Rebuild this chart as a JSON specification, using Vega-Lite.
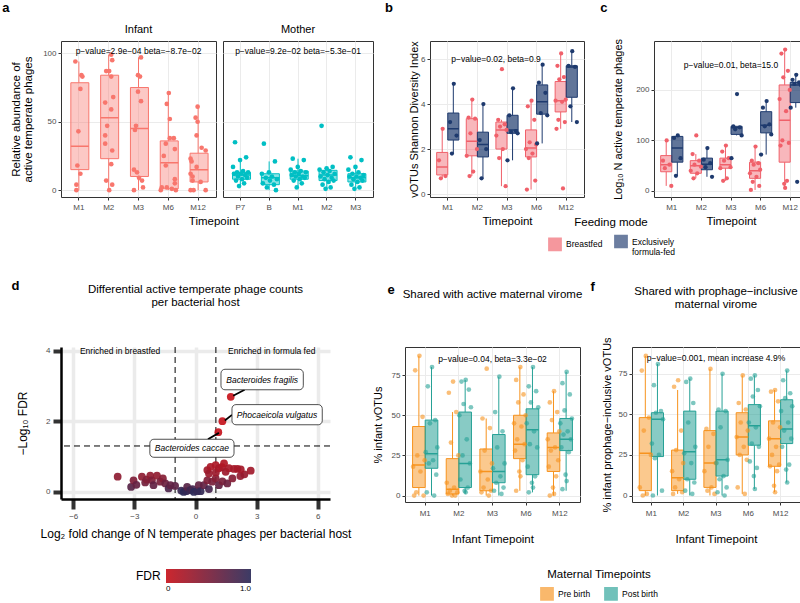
{
"$schema":"https://vega.github.io/schema/vega-lite/v6.json",
"background":"white",
"padding":{"left":2,"top":2,"right":0,"bottom":0},
"config":{
 "font":"Liberation Sans",
 "view":{"stroke":"#333333","strokeWidth":1},
 "axis":{"labelFontSize":8,"labelColor":"#4D4D4D","titleFontSize":11,"titleFontWeight":"normal","titleColor":"black","tickColor":"#333333","tickSize":3,"domain":false,"gridColor":"#EBEBEB","labelPadding":2,"titlePadding":4},
 "axisX":{"labelAngle":0},
 "title":{"fontSize":13,"fontWeight":"bold","anchor":"start","frame":"bounds","offset":0,"color":"black"},
 "legend":{"titleFontWeight":"normal","titleColor":"black","labelColor":"black"}
},
"datasets":{
 "aI":[
  {"t":"M1","v":94,"k":4},{"t":"M1","v":84,"k":10},{"t":"M1","v":83,"k":11},{"t":"M1","v":74,"k":9},{"t":"M1","v":43,"k":7},{"t":"M1","v":18,"k":6},{"t":"M1","v":12,"k":9},{"t":"M1","v":4,"k":5},{"t":"M1","v":0,"k":5},
  {"t":"M2","v":99,"k":10},{"t":"M2","v":95,"k":11},{"t":"M2","v":87,"k":5},{"t":"M2","v":87,"k":8},{"t":"M2","v":83,"k":10},{"t":"M2","v":68,"k":12},{"t":"M2","v":64,"k":4},{"t":"M2","v":59,"k":10},{"t":"M2","v":47,"k":6},{"t":"M2","v":40,"k":4},{"t":"M2","v":34,"k":4},{"t":"M2","v":29,"k":11},{"t":"M2","v":19,"k":10},{"t":"M2","v":7,"k":5},{"t":"M2","v":4,"k":11},{"t":"M2","v":0,"k":8},
  {"t":"M3","v":97,"k":10},{"t":"M3","v":84,"k":7},{"t":"M3","v":83,"k":9},{"t":"M3","v":72,"k":7},{"t":"M3","v":65,"k":10},{"t":"M3","v":47,"k":5},{"t":"M3","v":44,"k":4},{"t":"M3","v":15,"k":3},{"t":"M3","v":13,"k":6},{"t":"M3","v":9,"k":8},{"t":"M3","v":7,"k":11},{"t":"M3","v":2,"k":12},{"t":"M3","v":0,"k":3},
  {"t":"M6","v":71,"k":8},{"t":"M6","v":63,"k":6},{"t":"M6","v":52,"k":9},{"t":"M6","v":38,"k":9},{"t":"M6","v":38,"k":13},{"t":"M6","v":34,"k":5},{"t":"M6","v":30,"k":14},{"t":"M6","v":25,"k":3},{"t":"M6","v":18,"k":5},{"t":"M6","v":8,"k":14},{"t":"M6","v":5,"k":14},{"t":"M6","v":2,"k":1},{"t":"M6","v":2,"k":6},{"t":"M6","v":1,"k":11},{"t":"M6","v":0,"k":0},{"t":"M6","v":0,"k":15},
  {"t":"M12","v":61,"k":7},{"t":"M12","v":53,"k":5},{"t":"M12","v":50,"k":7},{"t":"M12","v":40,"k":6},{"t":"M12","v":31,"k":11},{"t":"M12","v":29,"k":15},{"t":"M12","v":23,"k":0},{"t":"M12","v":21,"k":1},{"t":"M12","v":17,"k":6},{"t":"M12","v":12,"k":0},{"t":"M12","v":10,"k":2},{"t":"M12","v":7,"k":2},{"t":"M12","v":6,"k":10},{"t":"M12","v":0,"k":0},{"t":"M12","v":0,"k":3},{"t":"M12","v":0,"k":15}
 ],
 "aIb":[
  {"t":"M1","lo":0,"q1":15,"md":32,"q3":78.5,"hi":94},
  {"t":"M2","lo":0,"q1":23,"md":53,"q3":84,"hi":99},
  {"t":"M3","lo":0,"q1":10,"md":45,"q3":75,"hi":97},
  {"t":"M6","lo":0,"q1":1,"md":20,"q3":36,"hi":71},
  {"t":"M12","lo":0,"q1":6,"md":15,"q3":27,"hi":61}
 ],
 "aM":[
  {"t":"P7","v":35,"k":2},{"t":"P7","v":24,"k":13},{"t":"P7","v":22,"k":7},{"t":"P7","v":17,"k":0},{"t":"P7","v":14,"k":10},{"t":"P7","v":13,"k":4},{"t":"P7","v":13,"k":15},{"t":"P7","v":12,"k":8},{"t":"P7","v":12,"k":1},{"t":"P7","v":11,"k":12},{"t":"P7","v":10,"k":5},{"t":"P7","v":9,"k":14},{"t":"P7","v":8,"k":9},{"t":"P7","v":7,"k":3},{"t":"P7","v":5,"k":11},{"t":"P7","v":3,"k":6},
  {"t":"B","v":34,"k":2},{"t":"B","v":21,"k":13},{"t":"B","v":13,"k":7},{"t":"B","v":12,"k":0},{"t":"B","v":10,"k":10},{"t":"B","v":9,"k":4},{"t":"B","v":8,"k":15},{"t":"B","v":7,"k":8},{"t":"B","v":5,"k":1},{"t":"B","v":4,"k":12},{"t":"B","v":2,"k":5},{"t":"B","v":0,"k":14},
  {"t":"M1","v":23,"k":2},{"t":"M1","v":22,"k":13},{"t":"M1","v":17,"k":7},{"t":"M1","v":15,"k":0},{"t":"M1","v":14,"k":10},{"t":"M1","v":13,"k":4},{"t":"M1","v":13,"k":15},{"t":"M1","v":12,"k":8},{"t":"M1","v":11,"k":1},{"t":"M1","v":10,"k":12},{"t":"M1","v":10,"k":5},{"t":"M1","v":9,"k":14},{"t":"M1","v":8,"k":9},{"t":"M1","v":7,"k":3},{"t":"M1","v":5,"k":11},{"t":"M1","v":2,"k":6},
  {"t":"M2","v":47,"k":2},{"t":"M2","v":17,"k":13},{"t":"M2","v":16,"k":7},{"t":"M2","v":15,"k":0},{"t":"M2","v":14,"k":10},{"t":"M2","v":13,"k":4},{"t":"M2","v":12,"k":15},{"t":"M2","v":11,"k":8},{"t":"M2","v":10,"k":1},{"t":"M2","v":9,"k":12},{"t":"M2","v":8,"k":5},{"t":"M2","v":7,"k":14},{"t":"M2","v":6,"k":9},{"t":"M2","v":4,"k":3},{"t":"M2","v":2,"k":11},{"t":"M2","v":1,"k":6},
  {"t":"M3","v":24,"k":2},{"t":"M3","v":22,"k":13},{"t":"M3","v":17,"k":7},{"t":"M3","v":15,"k":0},{"t":"M3","v":13,"k":10},{"t":"M3","v":12,"k":4},{"t":"M3","v":11,"k":15},{"t":"M3","v":10,"k":8},{"t":"M3","v":10,"k":1},{"t":"M3","v":9,"k":12},{"t":"M3","v":8,"k":5},{"t":"M3","v":7,"k":14},{"t":"M3","v":6,"k":9},{"t":"M3","v":4,"k":3},{"t":"M3","v":2,"k":11},{"t":"M3","v":1,"k":6}
 ],
 "aMb":[
  {"t":"P7","lo":3,"q1":8,"md":11,"q3":13,"hi":22},
  {"t":"B","lo":0,"q1":4,"md":9,"q3":12,"hi":21},
  {"t":"M1","lo":2,"q1":8,"md":10.5,"q3":14,"hi":23},
  {"t":"M2","lo":1,"q1":7,"md":11,"q3":14.5,"hi":17},
  {"t":"M3","lo":1,"q1":6,"md":9,"q3":12,"hi":17}
 ],
 "bp":[
  {"t":"M1","g":"BF","v":2.9,"k":6},{"t":"M1","g":"BF","v":1.5,"k":2},{"t":"M1","g":"BF","v":0.8,"k":9},{"t":"M1","g":"BF","v":0.7,"k":4},
  {"t":"M1","g":"FF","v":4.9,"k":18},{"t":"M1","g":"FF","v":3.2,"k":14},{"t":"M1","g":"FF","v":2.6,"k":21},{"t":"M1","g":"FF","v":1.8,"k":16},
  {"t":"M2","g":"BF","v":4.2,"k":6},{"t":"M2","g":"BF","v":3.4,"k":2},{"t":"M2","g":"BF","v":3.35,"k":9},{"t":"M2","g":"BF","v":2.7,"k":4},{"t":"M2","g":"BF","v":2.0,"k":11},{"t":"M2","g":"BF","v":1.7,"k":0},{"t":"M2","g":"BF","v":1.0,"k":7},{"t":"M2","g":"BF","v":0.8,"k":3},
  {"t":"M2","g":"FF","v":4.0,"k":18},{"t":"M2","g":"FF","v":2.4,"k":14},{"t":"M2","g":"FF","v":2.0,"k":21},{"t":"M2","g":"FF","v":0.7,"k":16},
  {"t":"M3","g":"BF","v":5.55,"k":6},{"t":"M3","g":"BF","v":3.3,"k":2},{"t":"M3","g":"BF","v":3.1,"k":9},{"t":"M3","g":"BF","v":3.0,"k":4},{"t":"M3","g":"BF","v":2.85,"k":11},{"t":"M3","g":"BF","v":2.6,"k":0},{"t":"M3","g":"BF","v":2.0,"k":7},{"t":"M3","g":"BF","v":1.6,"k":3},{"t":"M3","g":"BF","v":0.35,"k":10},
  {"t":"M3","g":"FF","v":4.7,"k":18},{"t":"M3","g":"FF","v":3.5,"k":14},{"t":"M3","g":"FF","v":2.8,"k":21},{"t":"M3","g":"FF","v":2.75,"k":16},{"t":"M3","g":"FF","v":2.7,"k":23},{"t":"M3","g":"FF","v":1.5,"k":12},
  {"t":"M6","g":"BF","v":4.15,"k":6},{"t":"M6","g":"BF","v":3.9,"k":2},{"t":"M6","g":"BF","v":3.3,"k":9},{"t":"M6","g":"BF","v":2.3,"k":4},{"t":"M6","g":"BF","v":2.2,"k":11},{"t":"M6","g":"BF","v":2.0,"k":0},{"t":"M6","g":"BF","v":1.8,"k":7},{"t":"M6","g":"BF","v":1.6,"k":3},{"t":"M6","g":"BF","v":0.6,"k":10},{"t":"M6","g":"BF","v":0.2,"k":1},
  {"t":"M6","g":"FF","v":5.75,"k":18},{"t":"M6","g":"FF","v":4.95,"k":14},{"t":"M6","g":"FF","v":4.5,"k":21},{"t":"M6","g":"FF","v":3.6,"k":16},{"t":"M6","g":"FF","v":3.5,"k":23},{"t":"M6","g":"FF","v":2.25,"k":12},
  {"t":"M12","g":"BF","v":6.25,"k":6},{"t":"M12","g":"BF","v":5.7,"k":2},{"t":"M12","g":"BF","v":5.2,"k":9},{"t":"M12","g":"BF","v":5.1,"k":4},{"t":"M12","g":"BF","v":4.2,"k":11},{"t":"M12","g":"BF","v":4.15,"k":0},{"t":"M12","g":"BF","v":4.1,"k":7},{"t":"M12","g":"BF","v":3.3,"k":3},{"t":"M12","g":"BF","v":3.2,"k":10},{"t":"M12","g":"BF","v":2.9,"k":1},{"t":"M12","g":"BF","v":0.25,"k":8},
  {"t":"M12","g":"FF","v":6.35,"k":18},{"t":"M12","g":"FF","v":5.7,"k":14},{"t":"M12","g":"FF","v":5.65,"k":21},{"t":"M12","g":"FF","v":3.9,"k":16},{"t":"M12","g":"FF","v":3.2,"k":23}
 ],
 "bb":[
  {"t":"M1","g":"BF","lo":0.7,"q1":0.85,"md":1.2,"q3":1.85,"hi":2.9},
  {"t":"M1","g":"FF","lo":1.8,"q1":2.4,"md":2.9,"q3":3.6,"hi":4.9},
  {"t":"M2","g":"BF","lo":0.8,"q1":1.7,"md":2.35,"q3":3.35,"hi":4.2},
  {"t":"M2","g":"FF","lo":0.7,"q1":1.65,"md":2.2,"q3":2.75,"hi":4.0},
  {"t":"M3","g":"BF","lo":0.35,"q1":2.0,"md":2.85,"q3":3.2,"hi":3.3},
  {"t":"M3","g":"FF","lo":1.5,"q1":2.7,"md":2.85,"q3":3.5,"hi":4.7},
  {"t":"M6","g":"BF","lo":0.2,"q1":1.65,"md":2.05,"q3":2.85,"hi":4.15},
  {"t":"M6","g":"FF","lo":2.25,"q1":3.55,"md":4.1,"q3":4.85,"hi":5.75},
  {"t":"M12","g":"BF","lo":2.9,"q1":3.65,"md":4.15,"q3":5.0,"hi":6.25},
  {"t":"M12","g":"FF","lo":3.2,"q1":4.3,"md":5.65,"q3":5.7,"hi":6.35}
 ],
 "cp":[
  {"t":"M1","g":"BF","v":100,"k":6},{"t":"M1","g":"BF","v":60,"k":2},{"t":"M1","g":"BF","v":52,"k":9},{"t":"M1","g":"BF","v":45,"k":4},{"t":"M1","g":"BF","v":10,"k":11},
  {"t":"M1","g":"FF","v":110,"k":18},{"t":"M1","g":"FF","v":105,"k":14},{"t":"M1","g":"FF","v":65,"k":21},{"t":"M1","g":"FF","v":30,"k":16},
  {"t":"M2","g":"BF","v":110,"k":6},{"t":"M2","g":"BF","v":73,"k":2},{"t":"M2","g":"BF","v":60,"k":9},{"t":"M2","g":"BF","v":52,"k":4},{"t":"M2","g":"BF","v":48,"k":11},{"t":"M2","g":"BF","v":40,"k":0},{"t":"M2","g":"BF","v":35,"k":7},{"t":"M2","g":"BF","v":25,"k":3},
  {"t":"M2","g":"FF","v":85,"k":18},{"t":"M2","g":"FF","v":62,"k":14},{"t":"M2","g":"FF","v":55,"k":21},{"t":"M2","g":"FF","v":47,"k":16},{"t":"M2","g":"FF","v":28,"k":23},
  {"t":"M3","g":"BF","v":90,"k":6},{"t":"M3","g":"BF","v":78,"k":2},{"t":"M3","g":"BF","v":65,"k":9},{"t":"M3","g":"BF","v":60,"k":4},{"t":"M3","g":"BF","v":47,"k":11},{"t":"M3","g":"BF","v":45,"k":0},{"t":"M3","g":"BF","v":25,"k":7},{"t":"M3","g":"BF","v":20,"k":3},
  {"t":"M3","g":"FF","v":192,"k":18},{"t":"M3","g":"FF","v":128,"k":14},{"t":"M3","g":"FF","v":126,"k":21},{"t":"M3","g":"FF","v":122,"k":16},{"t":"M3","g":"FF","v":110,"k":23},{"t":"M3","g":"FF","v":65,"k":12},
  {"t":"M6","g":"BF","v":88,"k":6},{"t":"M6","g":"BF","v":60,"k":2},{"t":"M6","g":"BF","v":55,"k":9},{"t":"M6","g":"BF","v":52,"k":4},{"t":"M6","g":"BF","v":42,"k":11},{"t":"M6","g":"BF","v":35,"k":0},{"t":"M6","g":"BF","v":28,"k":7},{"t":"M6","g":"BF","v":18,"k":3},{"t":"M6","g":"BF","v":10,"k":10},{"t":"M6","g":"BF","v":2,"k":1},
  {"t":"M6","g":"FF","v":178,"k":18},{"t":"M6","g":"FF","v":165,"k":14},{"t":"M6","g":"FF","v":132,"k":21},{"t":"M6","g":"FF","v":128,"k":16},{"t":"M6","g":"FF","v":112,"k":23},{"t":"M6","g":"FF","v":72,"k":12},
  {"t":"M12","g":"BF","v":280,"k":6},{"t":"M12","g":"BF","v":272,"k":2},{"t":"M12","g":"BF","v":238,"k":9},{"t":"M12","g":"BF","v":225,"k":4},{"t":"M12","g":"BF","v":200,"k":11},{"t":"M12","g":"BF","v":182,"k":0},{"t":"M12","g":"BF","v":158,"k":7},{"t":"M12","g":"BF","v":100,"k":3},{"t":"M12","g":"BF","v":95,"k":10},{"t":"M12","g":"BF","v":90,"k":1},{"t":"M12","g":"BF","v":20,"k":8},{"t":"M12","g":"BF","v":14,"k":5},{"t":"M12","g":"BF","v":6,"k":6},
  {"t":"M12","g":"FF","v":230,"k":18},{"t":"M12","g":"FF","v":220,"k":14},{"t":"M12","g":"FF","v":215,"k":21},{"t":"M12","g":"FF","v":212,"k":16},{"t":"M12","g":"FF","v":210,"k":23},{"t":"M12","g":"FF","v":165,"k":12},{"t":"M12","g":"FF","v":18,"k":19}
 ],
 "cb":[
  {"t":"M1","g":"BF","lo":10,"q1":38,"md":52,"q3":70,"hi":100},
  {"t":"M1","g":"FF","lo":30,"q1":57,"md":85,"q3":108,"hi":110},
  {"t":"M2","g":"BF","lo":25,"q1":35,"md":50,"q3":60,"hi":73},
  {"t":"M2","g":"FF","lo":28,"q1":42,"md":53,"q3":65,"hi":85},
  {"t":"M3","g":"BF","lo":20,"q1":45,"md":52,"q3":65,"hi":90},
  {"t":"M3","g":"FF","lo":110,"q1":112,"md":125,"q3":128,"hi":128},
  {"t":"M6","g":"BF","lo":2,"q1":25,"md":40,"q3":57,"hi":88},
  {"t":"M6","g":"FF","lo":72,"q1":115,"md":130,"q3":157,"hi":178},
  {"t":"M12","g":"BF","lo":6,"q1":57,"md":140,"q3":210,"hi":280},
  {"t":"M12","g":"FF","lo":165,"q1":175,"md":210,"q3":215,"hi":230}
 ],
 "ep":[
  {"t":"M1","g":"Pre","v":87,"k":6},{"t":"M1","g":"Pre","v":78,"k":2},{"t":"M1","g":"Pre","v":49,"k":9},{"t":"M1","g":"Pre","v":25,"k":4},{"t":"M1","g":"Pre","v":22,"k":11},{"t":"M1","g":"Pre","v":18,"k":0},{"t":"M1","g":"Pre","v":15,"k":7},{"t":"M1","g":"Pre","v":2,"k":3},{"t":"M1","g":"Pre","v":0,"k":10},{"t":"M1","g":"Pre","v":0,"k":1},
  {"t":"M1","g":"Post","v":80,"k":18},{"t":"M1","g":"Post","v":68,"k":14},{"t":"M1","g":"Post","v":47,"k":21},{"t":"M1","g":"Post","v":45,"k":16},{"t":"M1","g":"Post","v":30,"k":23},{"t":"M1","g":"Post","v":27,"k":12},{"t":"M1","g":"Post","v":22,"k":19},{"t":"M1","g":"Post","v":20,"k":15},{"t":"M1","g":"Post","v":13,"k":22},{"t":"M1","g":"Post","v":2,"k":13},{"t":"M1","g":"Post","v":0,"k":20},
  {"t":"M2","g":"Pre","v":71,"k":6},{"t":"M2","g":"Pre","v":64,"k":2},{"t":"M2","g":"Pre","v":52,"k":9},{"t":"M2","g":"Pre","v":33,"k":4},{"t":"M2","g":"Pre","v":25,"k":11},{"t":"M2","g":"Pre","v":8,"k":0},{"t":"M2","g":"Pre","v":5,"k":7},{"t":"M2","g":"Pre","v":3,"k":3},{"t":"M2","g":"Pre","v":2,"k":10},{"t":"M2","g":"Pre","v":1,"k":1},{"t":"M2","g":"Pre","v":0,"k":8},{"t":"M2","g":"Pre","v":0,"k":5},
  {"t":"M2","g":"Post","v":72,"k":18},{"t":"M2","g":"Post","v":71,"k":14},{"t":"M2","g":"Post","v":66,"k":21},{"t":"M2","g":"Post","v":57,"k":16},{"t":"M2","g":"Post","v":55,"k":23},{"t":"M2","g":"Post","v":50,"k":12},{"t":"M2","g":"Post","v":35,"k":19},{"t":"M2","g":"Post","v":25,"k":15},{"t":"M2","g":"Post","v":20,"k":22},{"t":"M2","g":"Post","v":10,"k":13},{"t":"M2","g":"Post","v":5,"k":20},{"t":"M2","g":"Post","v":3,"k":17},{"t":"M2","g":"Post","v":2,"k":18},
  {"t":"M3","g":"Pre","v":79,"k":6},{"t":"M3","g":"Pre","v":48,"k":2},{"t":"M3","g":"Pre","v":42,"k":9},{"t":"M3","g":"Pre","v":28,"k":4},{"t":"M3","g":"Pre","v":20,"k":11},{"t":"M3","g":"Pre","v":15,"k":0},{"t":"M3","g":"Pre","v":10,"k":7},{"t":"M3","g":"Pre","v":5,"k":3},{"t":"M3","g":"Pre","v":3,"k":10},{"t":"M3","g":"Pre","v":2,"k":1},{"t":"M3","g":"Pre","v":0,"k":8},
  {"t":"M3","g":"Post","v":74,"k":18},{"t":"M3","g":"Post","v":52,"k":14},{"t":"M3","g":"Post","v":40,"k":21},{"t":"M3","g":"Post","v":30,"k":16},{"t":"M3","g":"Post","v":20,"k":23},{"t":"M3","g":"Post","v":17,"k":12},{"t":"M3","g":"Post","v":12,"k":19},{"t":"M3","g":"Post","v":8,"k":15},{"t":"M3","g":"Post","v":5,"k":22},{"t":"M3","g":"Post","v":3,"k":13},{"t":"M3","g":"Post","v":1,"k":20},
  {"t":"M6","g":"Pre","v":80,"k":6},{"t":"M6","g":"Pre","v":72,"k":2},{"t":"M6","g":"Pre","v":63,"k":9},{"t":"M6","g":"Pre","v":58,"k":4},{"t":"M6","g":"Pre","v":50,"k":11},{"t":"M6","g":"Pre","v":45,"k":0},{"t":"M6","g":"Pre","v":43,"k":7},{"t":"M6","g":"Pre","v":35,"k":3},{"t":"M6","g":"Pre","v":32,"k":10},{"t":"M6","g":"Pre","v":28,"k":1},{"t":"M6","g":"Pre","v":22,"k":8},{"t":"M6","g":"Pre","v":15,"k":5},{"t":"M6","g":"Pre","v":12,"k":6},{"t":"M6","g":"Pre","v":3,"k":2},
  {"t":"M6","g":"Post","v":80,"k":18},{"t":"M6","g":"Post","v":68,"k":14},{"t":"M6","g":"Post","v":65,"k":21},{"t":"M6","g":"Post","v":58,"k":16},{"t":"M6","g":"Post","v":55,"k":23},{"t":"M6","g":"Post","v":45,"k":12},{"t":"M6","g":"Post","v":40,"k":19},{"t":"M6","g":"Post","v":32,"k":15},{"t":"M6","g":"Post","v":30,"k":22},{"t":"M6","g":"Post","v":18,"k":13},{"t":"M6","g":"Post","v":12,"k":20},{"t":"M6","g":"Post","v":8,"k":17},{"t":"M6","g":"Post","v":5,"k":18},{"t":"M6","g":"Post","v":2,"k":14},
  {"t":"M12","g":"Pre","v":65,"k":6},{"t":"M12","g":"Pre","v":58,"k":2},{"t":"M12","g":"Pre","v":52,"k":9},{"t":"M12","g":"Pre","v":47,"k":4},{"t":"M12","g":"Pre","v":40,"k":11},{"t":"M12","g":"Pre","v":35,"k":0},{"t":"M12","g":"Pre","v":30,"k":7},{"t":"M12","g":"Pre","v":28,"k":3},{"t":"M12","g":"Pre","v":22,"k":10},{"t":"M12","g":"Pre","v":18,"k":1},{"t":"M12","g":"Pre","v":12,"k":8},{"t":"M12","g":"Pre","v":5,"k":5},{"t":"M12","g":"Pre","v":1,"k":6},{"t":"M12","g":"Pre","v":0,"k":2},
  {"t":"M12","g":"Post","v":77,"k":18},{"t":"M12","g":"Post","v":70,"k":14},{"t":"M12","g":"Post","v":63,"k":21},{"t":"M12","g":"Post","v":53,"k":16},{"t":"M12","g":"Post","v":48,"k":23},{"t":"M12","g":"Post","v":45,"k":12},{"t":"M12","g":"Post","v":40,"k":19},{"t":"M12","g":"Post","v":38,"k":15},{"t":"M12","g":"Post","v":35,"k":22},{"t":"M12","g":"Post","v":30,"k":13},{"t":"M12","g":"Post","v":27,"k":20},{"t":"M12","g":"Post","v":13,"k":17},{"t":"M12","g":"Post","v":9,"k":18},{"t":"M12","g":"Post","v":4,"k":14}
 ],
 "eb":[
  {"t":"M1","g":"Pre","lo":0,"q1":5,"md":19,"q3":43,"hi":87},
  {"t":"M1","g":"Post","lo":0,"q1":17,"md":26,"q3":47,"hi":80},
  {"t":"M2","g":"Pre","lo":0,"q1":1,"md":4,"q3":23,"hi":52},
  {"t":"M2","g":"Post","lo":1,"q1":5,"md":20,"q3":52,"hi":72},
  {"t":"M3","g":"Pre","lo":0,"q1":3,"md":15,"q3":29,"hi":48},
  {"t":"M3","g":"Post","lo":0,"q1":8,"md":15,"q3":38,"hi":74},
  {"t":"M6","g":"Pre","lo":3,"q1":23,"md":32,"q3":50,"hi":80},
  {"t":"M6","g":"Post","lo":2,"q1":13,"md":41,"q3":54,"hi":80},
  {"t":"M12","g":"Pre","lo":0,"q1":15,"md":30,"q3":39,"hi":65},
  {"t":"M12","g":"Post","lo":3,"q1":28,"md":35,"q3":48,"hi":77}
 ],
 "fp":[
  {"t":"M1","g":"Pre","v":86,"k":6},{"t":"M1","g":"Pre","v":77,"k":2},{"t":"M1","g":"Pre","v":48,"k":9},{"t":"M1","g":"Pre","v":40,"k":4},{"t":"M1","g":"Pre","v":25,"k":11},{"t":"M1","g":"Pre","v":5,"k":0},{"t":"M1","g":"Pre","v":1,"k":7},{"t":"M1","g":"Pre","v":0,"k":3},
  {"t":"M1","g":"Post","v":81,"k":18},{"t":"M1","g":"Post","v":68,"k":14},{"t":"M1","g":"Post","v":52,"k":21},{"t":"M1","g":"Post","v":51,"k":16},{"t":"M1","g":"Post","v":47,"k":23},{"t":"M1","g":"Post","v":32,"k":12},{"t":"M1","g":"Post","v":25,"k":19},{"t":"M1","g":"Post","v":23,"k":15},{"t":"M1","g":"Post","v":3,"k":22},{"t":"M1","g":"Post","v":0,"k":13},
  {"t":"M2","g":"Pre","v":71,"k":6},{"t":"M2","g":"Pre","v":67,"k":2},{"t":"M2","g":"Pre","v":40,"k":9},{"t":"M2","g":"Pre","v":28,"k":4},{"t":"M2","g":"Pre","v":20,"k":11},{"t":"M2","g":"Pre","v":15,"k":0},{"t":"M2","g":"Pre","v":10,"k":7},{"t":"M2","g":"Pre","v":5,"k":3},{"t":"M2","g":"Pre","v":2,"k":10},{"t":"M2","g":"Pre","v":1,"k":1},
  {"t":"M2","g":"Post","v":72,"k":18},{"t":"M2","g":"Post","v":70,"k":14},{"t":"M2","g":"Post","v":57,"k":21},{"t":"M2","g":"Post","v":45,"k":16},{"t":"M2","g":"Post","v":30,"k":23},{"t":"M2","g":"Post","v":26,"k":12},{"t":"M2","g":"Post","v":20,"k":19},{"t":"M2","g":"Post","v":10,"k":15},{"t":"M2","g":"Post","v":8,"k":22},{"t":"M2","g":"Post","v":3,"k":13},{"t":"M2","g":"Post","v":1,"k":20},
  {"t":"M3","g":"Pre","v":78,"k":6},{"t":"M3","g":"Pre","v":41,"k":2},{"t":"M3","g":"Pre","v":38,"k":9},{"t":"M3","g":"Pre","v":30,"k":4},{"t":"M3","g":"Pre","v":20,"k":11},{"t":"M3","g":"Pre","v":15,"k":0},{"t":"M3","g":"Pre","v":5,"k":7},{"t":"M3","g":"Pre","v":3,"k":3},{"t":"M3","g":"Pre","v":1,"k":10},
  {"t":"M3","g":"Post","v":75,"k":18},{"t":"M3","g":"Post","v":53,"k":14},{"t":"M3","g":"Post","v":52,"k":21},{"t":"M3","g":"Post","v":42,"k":16},{"t":"M3","g":"Post","v":22,"k":23},{"t":"M3","g":"Post","v":20,"k":12},{"t":"M3","g":"Post","v":12,"k":19},{"t":"M3","g":"Post","v":10,"k":15},{"t":"M3","g":"Post","v":5,"k":22},{"t":"M3","g":"Post","v":2,"k":13},{"t":"M3","g":"Post","v":0,"k":20},
  {"t":"M6","g":"Pre","v":74,"k":6},{"t":"M6","g":"Pre","v":57,"k":2},{"t":"M6","g":"Pre","v":53,"k":9},{"t":"M6","g":"Pre","v":45,"k":4},{"t":"M6","g":"Pre","v":40,"k":11},{"t":"M6","g":"Pre","v":36,"k":0},{"t":"M6","g":"Pre","v":30,"k":7},{"t":"M6","g":"Pre","v":25,"k":3},{"t":"M6","g":"Pre","v":22,"k":10},{"t":"M6","g":"Pre","v":5,"k":1},{"t":"M6","g":"Pre","v":1,"k":8},
  {"t":"M6","g":"Post","v":74,"k":18},{"t":"M6","g":"Post","v":72,"k":14},{"t":"M6","g":"Post","v":65,"k":21},{"t":"M6","g":"Post","v":61,"k":16},{"t":"M6","g":"Post","v":55,"k":23},{"t":"M6","g":"Post","v":45,"k":12},{"t":"M6","g":"Post","v":42,"k":19},{"t":"M6","g":"Post","v":32,"k":15},{"t":"M6","g":"Post","v":30,"k":22},{"t":"M6","g":"Post","v":21,"k":13},{"t":"M6","g":"Post","v":17,"k":20},{"t":"M6","g":"Post","v":12,"k":17},{"t":"M6","g":"Post","v":4,"k":18},
  {"t":"M12","g":"Pre","v":65,"k":6},{"t":"M12","g":"Pre","v":64,"k":2},{"t":"M12","g":"Pre","v":58,"k":9},{"t":"M12","g":"Pre","v":45,"k":4},{"t":"M12","g":"Pre","v":42,"k":11},{"t":"M12","g":"Pre","v":35,"k":0},{"t":"M12","g":"Pre","v":30,"k":7},{"t":"M12","g":"Pre","v":25,"k":3},{"t":"M12","g":"Pre","v":19,"k":10},{"t":"M12","g":"Pre","v":18,"k":1},{"t":"M12","g":"Pre","v":15,"k":8},{"t":"M12","g":"Pre","v":6,"k":5},{"t":"M12","g":"Pre","v":2,"k":6},
  {"t":"M12","g":"Post","v":77,"k":18},{"t":"M12","g":"Post","v":71,"k":14},{"t":"M12","g":"Post","v":63,"k":21},{"t":"M12","g":"Post","v":60,"k":16},{"t":"M12","g":"Post","v":55,"k":23},{"t":"M12","g":"Post","v":52,"k":12},{"t":"M12","g":"Post","v":45,"k":19},{"t":"M12","g":"Post","v":40,"k":15},{"t":"M12","g":"Post","v":35,"k":22},{"t":"M12","g":"Post","v":30,"k":13},{"t":"M12","g":"Post","v":19,"k":20},{"t":"M12","g":"Post","v":16,"k":17},{"t":"M12","g":"Post","v":8,"k":18}
 ],
 "fb":[
  {"t":"M1","g":"Pre","lo":0,"q1":3,"md":26,"q3":48,"hi":86},
  {"t":"M1","g":"Post","lo":0,"q1":24,"md":47,"q3":51,"hi":81},
  {"t":"M2","g":"Pre","lo":1,"q1":3,"md":11,"q3":28,"hi":65},
  {"t":"M2","g":"Post","lo":0,"q1":10,"md":27,"q3":52,"hi":72},
  {"t":"M3","g":"Pre","lo":0,"q1":5,"md":20,"q3":40,"hi":78},
  {"t":"M3","g":"Post","lo":0,"q1":12,"md":22,"q3":52,"hi":75},
  {"t":"M6","g":"Pre","lo":1,"q1":25,"md":36,"q3":51,"hi":74},
  {"t":"M6","g":"Post","lo":4,"q1":31,"md":43,"q3":56,"hi":74},
  {"t":"M12","g":"Pre","lo":2,"q1":18,"md":35,"q3":46,"hi":65},
  {"t":"M12","g":"Post","lo":8,"q1":32,"md":41,"q3":59,"hi":77}
 ],
 "dv":[
  {"x":1.73,"y":2.69,"f":0.002},{"x":1.32,"y":2.0,"f":0.01},{"x":1.12,"y":1.69,"f":0.02},
  {"x":-3.82,"y":0.43,"f":0.37},{"x":-3.16,"y":0.14,"f":0.72},{"x":-3.04,"y":0.33,"f":0.47},{"x":-2.9,"y":0.2,"f":0.63},{"x":-2.63,"y":0.43,"f":0.37},{"x":-2.47,"y":0.27,"f":0.54},{"x":-2.4,"y":0.35,"f":0.45},{"x":-2.22,"y":0.46,"f":0.35},{"x":-2.14,"y":0.33,"f":0.47},{"x":-2.06,"y":0.19,"f":0.65},{"x":-1.89,"y":0.46,"f":0.35},{"x":-1.73,"y":0.29,"f":0.51},{"x":-1.6,"y":0.38,"f":0.42},{"x":-1.48,"y":0.24,"f":0.58},{"x":-1.32,"y":0.1,"f":0.79},{"x":-1.23,"y":0.19,"f":0.65},{"x":-1.0,"y":0.17,"f":0.68},
  {"x":-0.7,"y":0.04,"f":0.91},{"x":-0.58,"y":0.0,"f":1.0},{"x":-0.45,"y":0.02,"f":0.95},{"x":-0.41,"y":0.14,"f":0.72},{"x":-0.25,"y":0.05,"f":0.89},{"x":-0.15,"y":0.08,"f":0.83},{"x":-0.08,"y":0.0,"f":1.0},{"x":0.08,"y":0.02,"f":0.95},{"x":0.16,"y":0.19,"f":0.65},{"x":0.25,"y":0.02,"f":0.95},{"x":0.41,"y":0.19,"f":0.65},{"x":0.58,"y":0.33,"f":0.47},{"x":0.66,"y":0.08,"f":0.83},{"x":0.82,"y":0.29,"f":0.51},{"x":0.99,"y":0.38,"f":0.42},{"x":1.15,"y":0.19,"f":0.65},{"x":1.32,"y":0.3,"f":0.5},{"x":1.56,"y":0.24,"f":0.58},{"x":1.81,"y":0.38,"f":0.42},{"x":2.2,"y":0.45,"f":0.35},{"x":2.4,"y":0.5,"f":0.32},
  {"x":0.58,"y":0.62,"f":0.24},{"x":0.66,"y":0.52,"f":0.3},{"x":0.74,"y":0.71,"f":0.19},{"x":0.99,"y":0.76,"f":0.17},{"x":1.0,"y":0.55,"f":0.28},{"x":1.15,"y":0.67,"f":0.21},{"x":1.3,"y":0.7,"f":0.2},{"x":1.4,"y":0.81,"f":0.15},{"x":1.48,"y":0.57,"f":0.27},{"x":1.64,"y":0.67,"f":0.21},{"x":1.89,"y":0.65,"f":0.22},{"x":2.06,"y":0.65,"f":0.22},{"x":2.22,"y":0.64,"f":0.23},{"x":2.71,"y":0.6,"f":0.25}
 ],
 "dl":[
  {"lab":"Bacteroides fragilis","x1":1.25,"x2":5.29,"y1":2.89,"y2":3.47,"cx":3.27,"cy":3.18,"sx":1.85,"sy":2.72,"ex":2.41,"ey":2.89},
  {"lab":"Phocaeicola vulgatus","x1":1.79,"x2":6.22,"y1":1.9,"y2":2.47,"cx":4.0,"cy":2.19,"sx":1.44,"sy":2.02,"ex":1.79,"ey":2.18},
  {"lab":"Bacteroides caccae","x1":-2.24,"x2":1.89,"y1":0.98,"y2":1.49,"cx":-0.18,"cy":1.24,"sx":1.15,"sy":1.67,"ex":0.61,"ey":1.49}
 ]
},
"vconcat":[
 {"hconcat":[
  {"title":{"text":"a","dx":-8},
   "vconcat":[
    {"title":{"text":"Timepoint","orient":"bottom","anchor":"middle","frame":"bounds","fontSize":11.5,"fontWeight":"normal","offset":4,"dx":22},
     "hconcat":[
      {"vconcat":[
        {"width":155,"height":22,"data":{"values":[{"n":"Infant"}]},"mark":{"type":"text","fontSize":11,"color":"black"},"encoding":{"text":{"field":"n"}}},
        {"width":155,"height":156,
         "encoding":{"x":{"field":"t","type":"nominal","sort":["M1","M2","M3","M6","M12"],"scale":{"paddingInner":0.46,"paddingOuter":0.33},"axis":{"title":null,"grid":true,"bandPosition":0.5,"labelPadding":3}}},
         "layer":[
          {"data":{"name":"aIb"},"mark":{"type":"rule","color":"#F8766D"},"encoding":{"y":{"field":"lo","type":"quantitative","scale":{"domain":[-5,109],"nice":false,"zero":false},"axis":{"values":[0,12.5,25,37.5,50,62.5,75,87.5,100],"labelExpr":"datum.value % 25 === 0 ? datum.label : ''","gridWidth":{"condition":{"test":"datum.value % 25 !== 0","value":0.5},"value":1},"tickOpacity":{"condition":{"test":"datum.value % 25 !== 0","value":0},"value":1},"title":["Relative abundance of","active temperate phages"],"titleFontSize":11.5,"titleLineHeight":12,"titlePadding":9}},"y2":{"field":"q1"}}},
          {"data":{"name":"aIb"},"mark":{"type":"rule","color":"#F8766D"},"encoding":{"y":{"field":"q3","type":"quantitative","scale":{"domain":[-5,109],"nice":false,"zero":false}},"y2":{"field":"hi"}}},
          {"data":{"name":"aIb"},"mark":{"type":"bar","fill":"#F8766D","fillOpacity":0.4,"stroke":"#F8766D","strokeWidth":1},"encoding":{"y":{"field":"q1","type":"quantitative","scale":{"domain":[-5,109],"nice":false,"zero":false}},"y2":{"field":"q3"}}},
          {"data":{"name":"aIb"},"mark":{"type":"bar","filled":false,"stroke":"#F8766D","strokeWidth":1.5},"encoding":{"y":{"field":"md","type":"quantitative","scale":{"domain":[-5,109],"nice":false,"zero":false}},"y2":{"field":"md"}}},
          {"data":{"name":"aI"},"mark":{"type":"circle","color":"#F8766D","size":22,"opacity":1},"encoding":{"xOffset":{"field":"k","type":"nominal","scale":{"domain":[0,1,2,3,4,5,6,7,8,9,10,11,12,13,14,15]}},"y":{"field":"v","type":"quantitative","scale":{"domain":[-5,109],"nice":false,"zero":false}}}},
          {"data":{"values":[{"t":"M3","v":102,"lab":"p−value=2.9e−04 beta=−8.7e−02"}]},"mark":{"type":"text","fontSize":8.5,"color":"black"},"encoding":{"y":{"field":"v","type":"quantitative","scale":{"domain":[-5,109],"nice":false,"zero":false}},"text":{"field":"lab"}}}
         ]}
       ],"spacing":0,"bounds":"flush"},
      {"vconcat":[
        {"width":150,"height":22,"data":{"values":[{"n":"Mother"}]},"mark":{"type":"text","fontSize":11,"color":"black"},"encoding":{"text":{"field":"n"}}},
        {"width":150,"height":156,
         "encoding":{"x":{"field":"t","type":"nominal","sort":["P7","B","M1","M2","M3"],"scale":{"paddingInner":0.46,"paddingOuter":0.33},"axis":{"title":null,"grid":true,"bandPosition":0.5,"labelPadding":3}}},
         "layer":[
          {"data":{"name":"aMb"},"mark":{"type":"rule","color":"#00BFC4"},"encoding":{"y":{"field":"lo","type":"quantitative","scale":{"domain":[-5,109],"nice":false,"zero":false},"axis":{"values":[0,12.5,25,37.5,50,62.5,75,87.5,100],"labels":false,"ticks":false,"title":null,"gridWidth":{"condition":{"test":"datum.value % 25 !== 0","value":0.5},"value":1}}},"y2":{"field":"q1"}}},
          {"data":{"name":"aMb"},"mark":{"type":"rule","color":"#00BFC4"},"encoding":{"y":{"field":"q3","type":"quantitative","scale":{"domain":[-5,109],"nice":false,"zero":false}},"y2":{"field":"hi"}}},
          {"data":{"name":"aMb"},"mark":{"type":"bar","fill":"#00BFC4","fillOpacity":0.45,"stroke":"#00BFC4","strokeWidth":1},"encoding":{"y":{"field":"q1","type":"quantitative","scale":{"domain":[-5,109],"nice":false,"zero":false}},"y2":{"field":"q3"}}},
          {"data":{"name":"aMb"},"mark":{"type":"bar","filled":false,"stroke":"#00BFC4","strokeWidth":1.5},"encoding":{"y":{"field":"md","type":"quantitative","scale":{"domain":[-5,109],"nice":false,"zero":false}},"y2":{"field":"md"}}},
          {"data":{"name":"aM"},"mark":{"type":"circle","color":"#00BFC4","size":22,"opacity":1},"encoding":{"xOffset":{"field":"k","type":"nominal","scale":{"domain":[0,1,2,3,4,5,6,7,8,9,10,11,12,13,14,15]}},"y":{"field":"v","type":"quantitative","scale":{"domain":[-5,109],"nice":false,"zero":false}}}},
          {"data":{"values":[{"t":"M1","v":102,"lab":"p−value=9.2e−02 beta=−5.3e−01"}]},"mark":{"type":"text","fontSize":8.5,"color":"black"},"encoding":{"y":{"field":"v","type":"quantitative","scale":{"domain":[-5,109],"nice":false,"zero":false}},"text":{"field":"lab"}}}
         ]}
       ],"spacing":0,"bounds":"flush"}
     ],"spacing":5}
   ]},
  {"hconcat":[
   {"title":{"text":"b","dx":-23},
    "vconcat":[
     {"width":154,"height":22,"data":{"values":[]},"mark":"text","view":{"stroke":null}},
     {"width":154,"height":156,
      "encoding":{
       "x":{"field":"t","type":"nominal","sort":["M1","M2","M3","M6","M12"],"scale":{"paddingInner":0.25,"paddingOuter":0.225},"axis":{"title":"Timepoint","grid":true,"bandPosition":0.5,"labelPadding":3,"titlePadding":4,"titleFontSize":11.5}},
       "color":{"field":"g","type":"nominal","scale":{"domain":["BF","FF"],"range":["#F0606A","#1E3A6E"]},"legend":{"orient":"none","legendX":118,"legendY":198,"direction":"horizontal","title":"Feeding mode","titleAnchor":"middle","titleFontSize":11.5,"labelFontSize":8.5,"symbolType":"square","symbolSize":150,"symbolOpacity":0.65,"labelExpr":"datum.value == 'BF' ? 'Breastfed' : ['Exclusively', 'formula-fed']","columnPadding":8,"titlePadding":6}}
      },
      "layer":[
       {"data":{"name":"bb"},"mark":{"type":"rule","strokeWidth":1},"encoding":{"xOffset":{"field":"g","type":"nominal","scale":{"domain":["BF","FF"]}},"y":{"field":"lo","type":"quantitative","scale":{"domain":[-0.13,6.8],"nice":false,"zero":false},"axis":{"values":[0,1,2,3,4,5,6],"labelExpr":"datum.value % 2 === 0 ? datum.label : ''","gridWidth":{"condition":{"test":"datum.value % 2 !== 0","value":0.5},"value":1},"tickOpacity":{"condition":{"test":"datum.value % 2 !== 0","value":0},"value":1},"title":"vOTUs Shannon Diversity Index","titlePadding":1}},"y2":{"field":"q1"}}},
       {"data":{"name":"bb"},"mark":{"type":"rule","strokeWidth":1},"encoding":{"xOffset":{"field":"g","type":"nominal","scale":{"domain":["BF","FF"]}},"y":{"field":"q3","type":"quantitative","scale":{"domain":[-0.13,6.8],"nice":false,"zero":false}},"y2":{"field":"hi"}}},
       {"data":{"name":"bb"},"mark":{"type":"bar","strokeWidth":1},"encoding":{"xOffset":{"field":"g","type":"nominal","scale":{"domain":["BF","FF"]}},"y":{"field":"q1","type":"quantitative","scale":{"domain":[-0.13,6.8],"nice":false,"zero":false}},"y2":{"field":"q3"},"stroke":{"field":"g","type":"nominal","scale":{"domain":["BF","FF"],"range":["#F0606A","#1E3A6E"]},"legend":null},"fillOpacity":{"field":"g","type":"nominal","scale":{"domain":["BF","FF"],"range":[0.45,0.7]},"legend":null}}},
       {"data":{"name":"bb"},"mark":{"type":"bar","filled":false,"strokeWidth":1.5},"encoding":{"xOffset":{"field":"g","type":"nominal","scale":{"domain":["BF","FF"]}},"y":{"field":"md","type":"quantitative","scale":{"domain":[-0.13,6.8],"nice":false,"zero":false}},"y2":{"field":"md"}}},
       {"data":{"name":"bp"},"mark":{"type":"circle","size":18,"opacity":1},"encoding":{"xOffset":{"field":"k","type":"nominal","scale":{"domain":[0,1,2,3,4,5,6,7,8,9,10,11,12,13,14,15,16,17,18,19,20,21,22,23]}},"y":{"field":"v","type":"quantitative","scale":{"domain":[-0.13,6.8],"nice":false,"zero":false}}}},
       {"data":{"values":[{"t":"M3","v":6.0,"lab":"p−value=0.02, beta=0.9"}]},"mark":{"type":"text","fontSize":8.5,"dx":-11},"encoding":{"y":{"field":"v","type":"quantitative","scale":{"domain":[-0.13,6.8],"nice":false,"zero":false}},"text":{"field":"lab"},"color":{"value":"black"}}}
      ],
      "resolve":{"scale":{"xOffset":"independent"}}}
    ],"spacing":0,"bounds":"flush"},
   {"title":{"text":"c","dx":-12},
    "vconcat":[
     {"width":154,"height":22,"data":{"values":[]},"mark":"text","view":{"stroke":null}},
     {"width":154,"height":156,
      "encoding":{
       "x":{"field":"t","type":"nominal","sort":["M1","M2","M3","M6","M12"],"scale":{"paddingInner":0.25,"paddingOuter":0.225},"axis":{"title":"Timepoint","grid":true,"bandPosition":0.5,"labelPadding":3,"titlePadding":4,"titleFontSize":11.5}},
       "color":{"field":"g","type":"nominal","scale":{"domain":["BF","FF"],"range":["#F0606A","#1E3A6E"]},"legend":{"orient":"none","legendX":118,"legendY":198,"direction":"horizontal","title":"Feeding mode","titleAnchor":"middle","titleFontSize":11.5,"labelFontSize":8.5,"symbolType":"square","symbolSize":150,"symbolOpacity":0.65,"labelExpr":"datum.value == 'BF' ? 'Breastfed' : ['Exclusively', 'formula-fed']","columnPadding":8,"titlePadding":6}}
      },
      "layer":[
       {"data":{"name":"cb"},"mark":{"type":"rule","strokeWidth":1},"encoding":{"xOffset":{"field":"g","type":"nominal","scale":{"domain":["BF","FF"]}},"y":{"field":"lo","type":"quantitative","scale":{"domain":[-12,297],"nice":false,"zero":false},"axis":{"values":[0,50,100,150,200,250],"labelExpr":"datum.value % 100 === 0 ? datum.label : ''","gridWidth":{"condition":{"test":"datum.value % 100 !== 0","value":0.5},"value":1},"tickOpacity":{"condition":{"test":"datum.value % 100 !== 0","value":0},"value":1},"title":"Log₁₀ N active temperate phages","titlePadding":12}},"y2":{"field":"q1"}}},
       {"data":{"name":"cb"},"mark":{"type":"rule","strokeWidth":1},"encoding":{"xOffset":{"field":"g","type":"nominal","scale":{"domain":["BF","FF"]}},"y":{"field":"q3","type":"quantitative","scale":{"domain":[-12,297],"nice":false,"zero":false}},"y2":{"field":"hi"}}},
       {"data":{"name":"cb"},"mark":{"type":"bar","strokeWidth":1},"encoding":{"xOffset":{"field":"g","type":"nominal","scale":{"domain":["BF","FF"]}},"y":{"field":"q1","type":"quantitative","scale":{"domain":[-12,297],"nice":false,"zero":false}},"y2":{"field":"q3"},"stroke":{"field":"g","type":"nominal","scale":{"domain":["BF","FF"],"range":["#F0606A","#1E3A6E"]},"legend":null},"fillOpacity":{"field":"g","type":"nominal","scale":{"domain":["BF","FF"],"range":[0.45,0.7]},"legend":null}}},
       {"data":{"name":"cb"},"mark":{"type":"bar","filled":false,"strokeWidth":1.5},"encoding":{"xOffset":{"field":"g","type":"nominal","scale":{"domain":["BF","FF"]}},"y":{"field":"md","type":"quantitative","scale":{"domain":[-12,297],"nice":false,"zero":false}},"y2":{"field":"md"}}},
       {"data":{"name":"cp"},"mark":{"type":"circle","size":18,"opacity":1},"encoding":{"xOffset":{"field":"k","type":"nominal","scale":{"domain":[0,1,2,3,4,5,6,7,8,9,10,11,12,13,14,15,16,17,18,19,20,21,22,23]}},"y":{"field":"v","type":"quantitative","scale":{"domain":[-12,297],"nice":false,"zero":false}}}},
       {"data":{"values":[{"t":"M3","v":250,"lab":"p−value=0.01, beta=15.0"}]},"mark":{"type":"text","fontSize":8.5},"encoding":{"y":{"field":"v","type":"quantitative","scale":{"domain":[-12,297],"nice":false,"zero":false}},"text":{"field":"lab"},"color":{"value":"black"}}}
      ],
      "resolve":{"scale":{"xOffset":"independent"}}}
    ],"spacing":0,"bounds":"flush"}
  ],"spacing":15,"resolve":{"scale":{"color":"shared","stroke":"shared","fillOpacity":"shared"}}}
 ],"spacing":11,"resolve":{"scale":{"color":"independent","stroke":"independent","fillOpacity":"independent"}}},
 {"hconcat":[
  {"title":{"text":"d","dx":-5,"dy":13},
   "vconcat":[
    {"width":269,"height":152,
     "title":{"text":["Differential active temperate phage counts","per bacterial host"],"anchor":"middle","frame":"group","fontSize":11.5,"fontWeight":"normal","offset":38},
     "view":{"stroke":null},
     "layer":[
      {"data":{"values":[{"x":-1},{"x":1}]},"mark":{"type":"rule","strokeDash":[6,4],"color":"black","strokeWidth":1},"encoding":{"x":{"field":"x","type":"quantitative","scale":{"domain":[-6.6,6.6],"nice":false,"zero":false}}}},
      {"data":{"values":[{"y":1.3}]},"mark":{"type":"rule","strokeDash":[6,4],"color":"black","strokeWidth":1},"encoding":{"y":{"field":"y","type":"quantitative","scale":{"domain":[-0.2,4.1],"nice":false,"zero":false}}}},
      {"data":{"name":"dv"},"mark":{"type":"circle","size":60,"opacity":0.92},"encoding":{
        "x":{"field":"x","type":"quantitative","scale":{"domain":[-6.6,6.6],"nice":false,"zero":false},"axis":{"values":[-6,-4.5,-3,-1.5,0,1.5,3,4.5,6],"labelExpr":"datum.value % 3 === 0 ? datum.label : ''","grid":true,"gridWidth":{"condition":{"test":"datum.value % 3 !== 0","value":2},"value":3.5},"domain":true,"domainColor":"black","domainWidth":2.5,"tickColor":"#333333","tickWidth":4,"tickSize":10,"tickOpacity":{"condition":{"test":"datum.value % 3 !== 0","value":0},"value":1},"labelPadding":3,"title":"Log₂ fold change of N temperate phages per bacterial host","titleFontSize":12,"titlePadding":8}},
        "y":{"field":"y","type":"quantitative","scale":{"domain":[-0.2,4.1],"nice":false,"zero":false},"axis":{"values":[0,0.5,1,1.5,2,2.5,3,3.5,4],"labelExpr":"datum.value % 1 === 0 ? datum.label : ''","grid":true,"gridWidth":{"condition":{"test":"datum.value % 1 !== 0","value":2},"value":3.5},"domain":true,"domainColor":"black","domainWidth":2.5,"tickColor":"#333333","tickWidth":4,"tickSize":8,"tickOpacity":{"condition":{"test":"datum.value % 1 !== 0","value":0},"value":1},"labelPadding":3,"title":"−Log₁₀ FDR","titleFontSize":12,"titlePadding":16}},
        "color":{"field":"f","type":"quantitative","scale":{"domain":[0,1],"range":["#C8141C","#2B2A58"],"interpolate":"rgb"},"legend":{"orient":"none","legendX":75,"legendY":222,"direction":"horizontal","title":"FDR","titleOrient":"left","gradientLength":85,"gradientThickness":14,"values":[0,1],"labelExpr":"datum.value == 0 ? '0' : '1.0'","titleFontSize":12,"labelFontSize":8}}}},
      {"data":{"name":"dl"},"mark":{"type":"rule","color":"black","strokeWidth":1.8},"encoding":{"x":{"field":"sx","type":"quantitative","scale":{"domain":[-6.6,6.6],"nice":false,"zero":false}},"x2":{"field":"ex"},"y":{"field":"sy","type":"quantitative","scale":{"domain":[-0.2,4.1],"nice":false,"zero":false}},"y2":{"field":"ey"}}},
      {"data":{"name":"dl"},"mark":{"type":"rect","fill":"white","stroke":"#222222","strokeWidth":0.8,"cornerRadius":4},"encoding":{"x":{"field":"x1","type":"quantitative","scale":{"domain":[-6.6,6.6],"nice":false,"zero":false}},"x2":{"field":"x2"},"y":{"field":"y1","type":"quantitative","scale":{"domain":[-0.2,4.1],"nice":false,"zero":false}},"y2":{"field":"y2"}}},
      {"data":{"name":"dl"},"mark":{"type":"text","fontStyle":"italic","fontSize":8.5,"color":"black"},"encoding":{"x":{"field":"cx","type":"quantitative","scale":{"domain":[-6.6,6.6],"nice":false,"zero":false}},"y":{"field":"cy","type":"quantitative","scale":{"domain":[-0.2,4.1],"nice":false,"zero":false}},"text":{"field":"lab"}}},
      {"data":{"values":[{"x":-3.7,"y":3.98,"lab":"Enriched in breastfed"},{"x":3.74,"y":3.98,"lab":"Enriched in formula fed"}]},"mark":{"type":"text","fontSize":8.5,"color":"black"},"encoding":{"x":{"field":"x","type":"quantitative","scale":{"domain":[-6.6,6.6],"nice":false,"zero":false}},"y":{"field":"y","type":"quantitative","scale":{"domain":[-0.2,4.1],"nice":false,"zero":false}},"text":{"field":"lab"}}}
     ]}
   ]},
  {"hconcat":[
   {"title":{"text":"e","dx":16,"dy":13},
    "vconcat":[
     {"width":175,"height":155,
      "title":{"text":"Shared with active maternal virome","anchor":"middle","frame":"group","fontSize":11.5,"fontWeight":"normal","offset":47},
      "encoding":{
       "x":{"field":"t","type":"nominal","sort":["M1","M2","M3","M6","M12"],"scale":{"paddingInner":0.25,"paddingOuter":0.225},"axis":{"title":"Infant Timepoint","grid":true,"bandPosition":0.5,"labelPadding":4,"titlePadding":16,"titleFontSize":11.5}},
       "color":{"field":"g","type":"nominal","scale":{"domain":["Pre","Post"],"range":["#F7931E","#26A196"]},"legend":{"orient":"none","legendX":135,"legendY":222,"direction":"horizontal","title":"Maternal Timepoints","titleAnchor":"middle","titleFontSize":11.5,"labelFontSize":8.5,"symbolType":"square","symbolSize":150,"symbolOpacity":0.65,"labelExpr":"datum.value + ' birth'","columnPadding":10,"titlePadding":6}}
      },
      "layer":[
       {"data":{"name":"eb"},"mark":{"type":"rule","strokeWidth":1},"encoding":{"xOffset":{"field":"g","type":"nominal","scale":{"domain":["Pre","Post"]}},"y":{"field":"lo","type":"quantitative","scale":{"domain":[-4,92.5],"nice":false,"zero":false},"axis":{"values":[0,12.5,25,37.5,50,62.5,75,87.5],"labelExpr":"datum.value % 25 === 0 ? datum.label : ''","gridWidth":{"condition":{"test":"datum.value % 25 !== 0","value":0.5},"value":1},"tickOpacity":{"condition":{"test":"datum.value % 25 !== 0","value":0},"value":1},"title":"% infant vOTUs","titlePadding":8}},"y2":{"field":"q1"}}},
       {"data":{"name":"eb"},"mark":{"type":"rule","strokeWidth":1},"encoding":{"xOffset":{"field":"g","type":"nominal","scale":{"domain":["Pre","Post"]}},"y":{"field":"q3","type":"quantitative","scale":{"domain":[-4,92.5],"nice":false,"zero":false}},"y2":{"field":"hi"}}},
       {"data":{"name":"eb"},"mark":{"type":"bar","strokeWidth":1},"encoding":{"xOffset":{"field":"g","type":"nominal","scale":{"domain":["Pre","Post"]}},"y":{"field":"q1","type":"quantitative","scale":{"domain":[-4,92.5],"nice":false,"zero":false}},"y2":{"field":"q3"},"stroke":{"field":"g","type":"nominal","scale":{"domain":["Pre","Post"],"range":["#F7931E","#26A196"]},"legend":null},"fillOpacity":{"field":"g","type":"nominal","scale":{"domain":["Pre","Post"],"range":[0.5,0.55]},"legend":null}}},
       {"data":{"name":"eb"},"mark":{"type":"bar","filled":false,"strokeWidth":1.5},"encoding":{"xOffset":{"field":"g","type":"nominal","scale":{"domain":["Pre","Post"]}},"y":{"field":"md","type":"quantitative","scale":{"domain":[-4,92.5],"nice":false,"zero":false}},"y2":{"field":"md"}}},
       {"data":{"name":"ep"},"mark":{"type":"circle","size":22,"opacity":0.6},"encoding":{"xOffset":{"field":"k","type":"nominal","scale":{"domain":[0,1,2,3,4,5,6,7,8,9,10,11,12,13,14,15,16,17,18,19,20,21,22,23]}},"y":{"field":"v","type":"quantitative","scale":{"domain":[-4,92.5],"nice":false,"zero":false}}}},
       {"data":{"values":[{"t":"M3","v":85,"lab":"p−value=0.04, beta=3.3e−02"}]},"mark":{"type":"text","fontSize":8.5},"encoding":{"y":{"field":"v","type":"quantitative","scale":{"domain":[-4,92.5],"nice":false,"zero":false}},"text":{"field":"lab"},"color":{"value":"black"}}}
      ],
      "resolve":{"scale":{"xOffset":"independent"}}}
    ]},
   {"title":{"text":"f","dx":-10,"dy":13},
    "vconcat":[
     {"width":168,"height":155,
      "title":{"text":["Shared with prophage−inclusive","maternal virome"],"anchor":"middle","frame":"group","fontSize":11.5,"fontWeight":"normal","offset":26},
      "encoding":{
       "x":{"field":"t","type":"nominal","sort":["M1","M2","M3","M6","M12"],"scale":{"paddingInner":0.25,"paddingOuter":0.225},"axis":{"title":"Infant Timepoint","grid":true,"bandPosition":0.5,"labelPadding":4,"titlePadding":16,"titleFontSize":11.5}},
       "color":{"field":"g","type":"nominal","scale":{"domain":["Pre","Post"],"range":["#F7931E","#26A196"]},"legend":{"orient":"none","legendX":135,"legendY":222,"direction":"horizontal","title":"Maternal Timepoints","titleAnchor":"middle","titleFontSize":11.5,"labelFontSize":8.5,"symbolType":"square","symbolSize":150,"symbolOpacity":0.65,"labelExpr":"datum.value + ' birth'","columnPadding":10,"titlePadding":6}}
      },
      "layer":[
       {"data":{"name":"fb"},"mark":{"type":"rule","strokeWidth":1},"encoding":{"xOffset":{"field":"g","type":"nominal","scale":{"domain":["Pre","Post"]}},"y":{"field":"lo","type":"quantitative","scale":{"domain":[-4,91.5],"nice":false,"zero":false},"axis":{"values":[0,12.5,25,37.5,50,62.5,75,87.5],"labelExpr":"datum.value % 25 === 0 ? datum.label : ''","gridWidth":{"condition":{"test":"datum.value % 25 !== 0","value":0.5},"value":1},"tickOpacity":{"condition":{"test":"datum.value % 25 !== 0","value":0},"value":1},"title":"% infant prophage−inclusive vOTUs","titlePadding":6}},"y2":{"field":"q1"}}},
       {"data":{"name":"fb"},"mark":{"type":"rule","strokeWidth":1},"encoding":{"xOffset":{"field":"g","type":"nominal","scale":{"domain":["Pre","Post"]}},"y":{"field":"q3","type":"quantitative","scale":{"domain":[-4,91.5],"nice":false,"zero":false}},"y2":{"field":"hi"}}},
       {"data":{"name":"fb"},"mark":{"type":"bar","strokeWidth":1},"encoding":{"xOffset":{"field":"g","type":"nominal","scale":{"domain":["Pre","Post"]}},"y":{"field":"q1","type":"quantitative","scale":{"domain":[-4,91.5],"nice":false,"zero":false}},"y2":{"field":"q3"},"stroke":{"field":"g","type":"nominal","scale":{"domain":["Pre","Post"],"range":["#F7931E","#26A196"]},"legend":null},"fillOpacity":{"field":"g","type":"nominal","scale":{"domain":["Pre","Post"],"range":[0.5,0.55]},"legend":null}}},
       {"data":{"name":"fb"},"mark":{"type":"bar","filled":false,"strokeWidth":1.5},"encoding":{"xOffset":{"field":"g","type":"nominal","scale":{"domain":["Pre","Post"]}},"y":{"field":"md","type":"quantitative","scale":{"domain":[-4,91.5],"nice":false,"zero":false}},"y2":{"field":"md"}}},
       {"data":{"name":"fp"},"mark":{"type":"circle","size":22,"opacity":0.6},"encoding":{"xOffset":{"field":"k","type":"nominal","scale":{"domain":[0,1,2,3,4,5,6,7,8,9,10,11,12,13,14,15,16,17,18,19,20,21,22,23]}},"y":{"field":"v","type":"quantitative","scale":{"domain":[-4,91.5],"nice":false,"zero":false}}}},
       {"data":{"values":[{"t":"M3","v":85,"lab":"p−value=0.001, mean increase 4.9%"}]},"mark":{"type":"text","fontSize":8.5},"encoding":{"y":{"field":"v","type":"quantitative","scale":{"domain":[-4,91.5],"nice":false,"zero":false}},"text":{"field":"lab"},"color":{"value":"black"}}}
      ],
      "resolve":{"scale":{"xOffset":"independent"}}}
    ]}
  ],"spacing":7,"resolve":{"scale":{"color":"shared","stroke":"shared","fillOpacity":"shared"}}}
 ],"spacing":20,"resolve":{"scale":{"color":"independent","stroke":"independent","fillOpacity":"independent"}}}
],
"spacing":22,
"resolve":{"scale":{"color":"independent","stroke":"independent","fillOpacity":"independent"}}
}
